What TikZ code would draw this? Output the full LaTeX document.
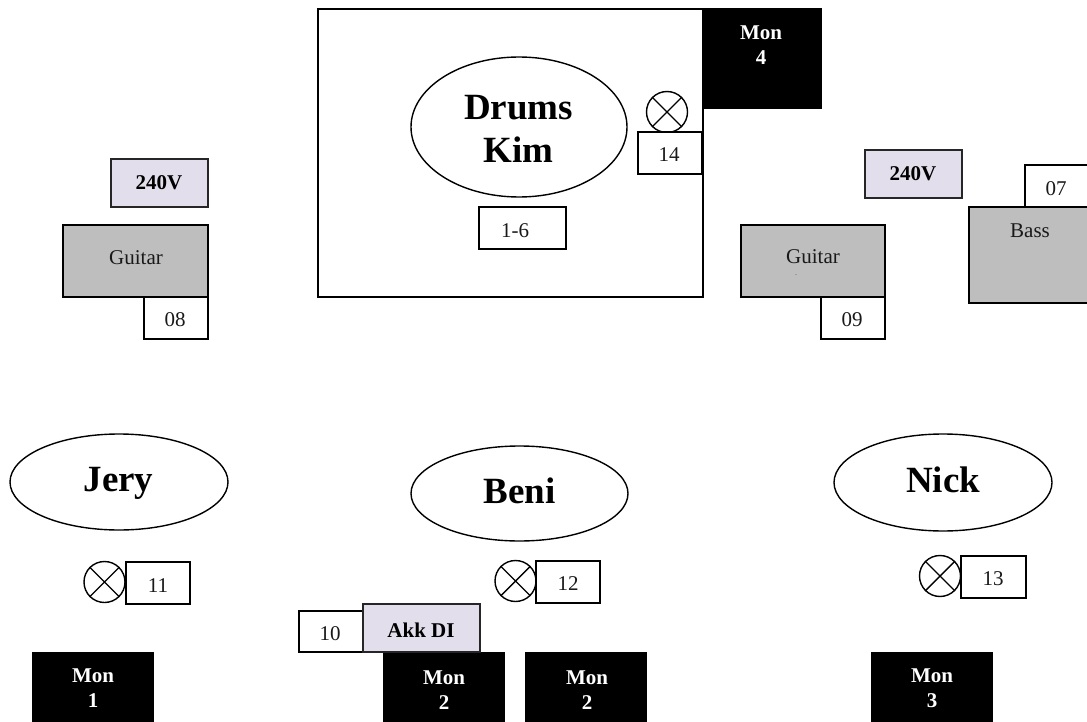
\documentclass[tikz,border=0pt]{standalone}
\usepackage{fontspec}
\setmainfont{Liberation Serif}
\usetikzlibrary{shapes.geometric}
\definecolor{lilac}{RGB}{227,222,235}
\definecolor{amp}{RGB}{190,190,190}
\newcommand\bx[7]{\node[#7,minimum width={#4-#2},minimum height={#5-#3}] (#1) at ({(#2+#4)/2},{(#3+#5)/2}) {#6};}
\newcommand\lamp[3]{\node[lampnode] (#1) at (#2,#3) {};\draw[lampline] (#1.45)--(#1.225) (#1.135)--(#1.315);}
\tikzset{
 x=1pt,y=-1pt,
 plain/.style={draw=black,line width=1.4pt,fill=white,inner sep=0pt},
 amp/.style={plain,fill=amp},
 power/.style={plain,draw=black!85,fill=lilac},
 mon/.style={fill=black,inner sep=0pt},
 person/.style={ellipse,draw=black,line width=1.4pt,fill=white,inner sep=0pt},
 lampnode/.style={circle,draw=black,line width=1.4pt,minimum size=41pt,inner sep=0pt,fill=white},
 lampline/.style={draw=black,line width=1.4pt},
 tn/.style={inner sep=0pt,text=black!90,font=\fontsize{21}{25}\selectfont},
 tb/.style={inner sep=0pt,font=\fontsize{21}{25}\selectfont\bfseries},
 montext/.style={text=white,align=center,inner sep=0pt,font=\fontsize{21}{25}\selectfont\bfseries},
 big/.style={anchor=base,inner sep=0pt,font=\fontsize{37}{43}\selectfont\bfseries},
}
\begin{document}
\begin{tikzpicture}
\useasboundingbox (0,0) rectangle (1087,722);
% drum riser
\bx{riser}{318}{9}{703}{297}{}{plain}
\bx{monD}{702}{8}{822}{109}{}{mon}
\node[montext] (monDt) at (761,45) {Mon\\4};
\bx{drums}{411}{57}{627}{197}{}{person}
\node[big] (drumsA) at (518.5,120) {Drums};
\node[big] (drumsB) at (518.5,163) {Kim};
\lamp{lampD}{667}{112}
\bx{b14}{638}{132}{702}{174}{}{plain}
\node[tn] (t14) at (669,155) {14};
\bx{b16}{479}{207}{566}{249}{}{plain}
\node[tn] (t16) at (515,231) {1-6};
% left
\bx{pl}{111}{159}{208}{207}{}{power}
\node[tb] (tpl) at (159,183) {240V};
\bx{gl}{63}{225}{208}{297}{}{amp}
\node[tn] (tgl) at (136,258) {Guitar};
\bx{b08}{144}{297}{208}{339}{}{plain}
\node[tn] (t08) at (175,320) {08};
% right
\bx{pr}{865}{150}{962}{198}{}{power}
\node[tb] (tpr) at (913,174) {240V};
\bx{gr}{741}{225}{885}{297}{}{amp}
\node[tn] (tgr) at (813,257) {Guitar};
\node[inner sep=0pt,font=\fontsize{6}{6}\selectfont] (dot) at (796,275) {.};
\bx{b09}{821}{297}{885}{339}{}{plain}
\node[tn] (t09) at (852,320) {09};
\bx{b07}{1025}{165}{1100}{207}{}{plain}
\node[tn] (t07) at (1056,189) {07};
\bx{bass}{969}{207}{1100}{303}{}{amp}
\node[tn] (tbass) at (1030,231) {Bass};
% people
\bx{jery}{10}{434}{228}{530}{}{person}
\node[big] (tjery) at (118.5,491) {Jery};
\bx{beni}{411}{446}{628}{541}{}{person}
\node[big] (tbeni) at (519.5,503) {Beni};
\bx{nick}{834}{434}{1052}{531}{}{person}
\node[big] (tnick) at (943,492) {Nick};
% lamps
\lamp{lampA}{104.5}{582}
\bx{b11}{126}{562}{190}{604}{}{plain}
\node[tn] (t11) at (158,586) {11};
\lamp{lampB}{515.5}{581}
\bx{b12}{536}{561}{600}{603}{}{plain}
\node[tn] (t12) at (568,584) {12};
\lamp{lampC}{940}{576}
\bx{b13}{961}{556}{1026}{598}{}{plain}
\node[tn] (t13) at (993,579) {13};
% monitors
\bx{b10}{299}{611}{363}{652}{}{plain}
\node[tn] (t10) at (330,634) {10};
\bx{mon1}{32}{652}{154}{722}{}{mon}
\node[montext] (m1t) at (93,688.5) {Mon\\1};
\bx{mon2a}{383}{652}{505}{722}{}{mon}
\node[montext] (m2at) at (444,690) {Mon\\2};
\bx{mon2b}{525}{652}{647}{722}{}{mon}
\node[montext] (m2bt) at (587,690) {Mon\\2};
\bx{mon3}{871}{652}{993}{722}{}{mon}
\node[montext] (m3t) at (932,688.5) {Mon\\3};
\bx{akk}{363}{604}{480}{652}{}{power}
\node[tb] (takk) at (421,630) {Akk DI};
\end{tikzpicture}
\end{document}
